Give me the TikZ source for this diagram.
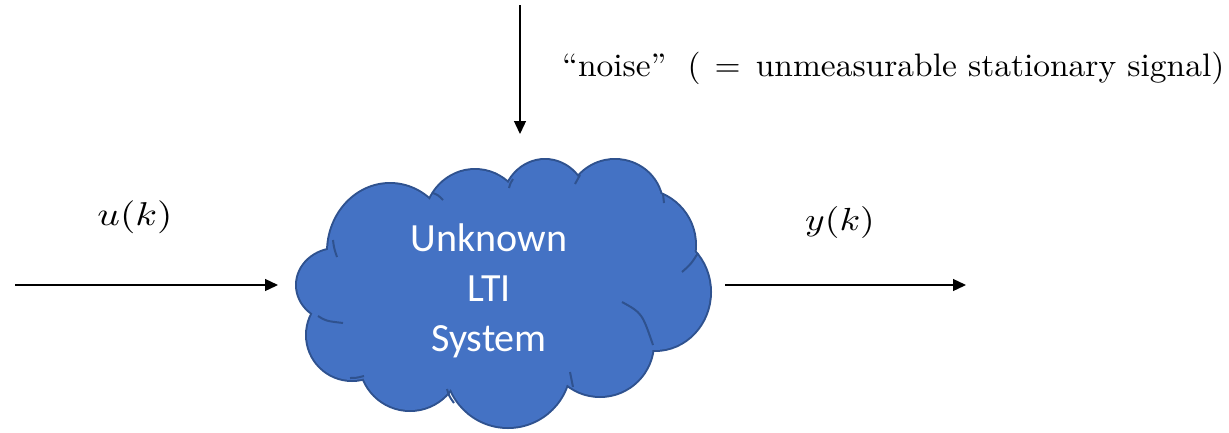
\documentclass[tikz,border=0pt]{standalone}
\usepackage{fontspec}
\newfontfamily\cloudfont{Carlito}
\usetikzlibrary{arrows.meta}
\definecolor{cloudfill}{HTML}{4472C4}
\definecolor{cloudline}{HTML}{2F528F}
\tikzset{
  sig/.style={line width=1.3pt, -{Triangle[length=13pt,width=12pt]}},
  mathlbl/.style={inner sep=0pt},
  noiselbl/.style={inner sep=0pt, anchor=base west},
  inner arc/.style={draw=cloudline, line width=2pt},
  systext/.style={text=white, align=center, font=\cloudfont\fontsize{40}{50}\selectfont}
}
\begin{document}
\begin{tikzpicture}[x=1pt,y=-1pt]
\useasboundingbox (0,0) rectangle (1229,432);
% cloud outline: stroke all puffs thick, then fill them
\def\puffs{337/285/40/36, 352/335/45/45, 410/360/50/50, 508/365/62/62, 600/343/53/53, 655/292/55/58, 640/245/55/55, 615/205/47/45, 545/205/42/45, 475/222/50/52, 390/252/62/68, 505/290/160/95}
\foreach \cx/\cy/\rx/\ry in \puffs
  \draw[cloudline, line width=4pt] (\cx,\cy) ellipse [x radius=\rx pt, y radius=\ry pt];
\foreach \cx/\cy/\rx/\ry in \puffs
  \fill[cloudfill] (\cx,\cy) ellipse [x radius=\rx pt, y radius=\ry pt];
% inner arcs
\draw[inner arc] (318,316) .. controls (326,321) .. (343,323);
\draw[inner arc] (350,378) .. controls (356,378) .. (364,376);
\draw[inner arc] (447,389) .. controls (449,396) .. (454,403);
\draw[inner arc] (570,372) .. controls (571,379) .. (573,387);
\draw[inner arc] (622,302) .. controls (642,313) .. (653,345);
\draw[inner arc] (682,272) .. controls (691,264) .. (698,253);
\draw[inner arc] (663,194) .. controls (664,198) .. (664,203);
\draw[inner arc] (575,184) .. controls (577,180) .. (580,175);
\draw[inner arc] (509,188) .. controls (510,184) .. (513,179);
\draw[inner arc] (433,193) .. controls (438,195) .. (443,200);
\draw[inner arc] (333,240) .. controls (334,248) .. (337,257);
% system node
\node[systext] (sys) at (489,291) {Unknown\\LTI\\System};
% signals
\coordinate (uin) at (15,285);
\coordinate (uend) at (278,285);
\coordinate (yst) at (725,285);
\coordinate (yend) at (966,285);
\coordinate (nst) at (520,5);
\coordinate (nend) at (520,134);
\draw[sig] (uin) -- (uend);
\draw[sig] (yst) -- (yend);
\draw[sig] (nst) -- (nend);
\node[mathlbl] (ulbl) at (135,217) {\scalebox{3.95}[3.3]{$u(k)$}};
\node[mathlbl] (ylbl) at (840,222) {\scalebox{3.75}[3.2]{$y(k)$}};
\node[noiselbl] (nlbl) at (562,76) {\resizebox{662pt}{3.25\height}{``noise''\hspace{6.3pt}(\hspace{4.2pt}=\hspace{4.5pt}unmeasurable stationary signal)}};
\end{tikzpicture}
\end{document}
